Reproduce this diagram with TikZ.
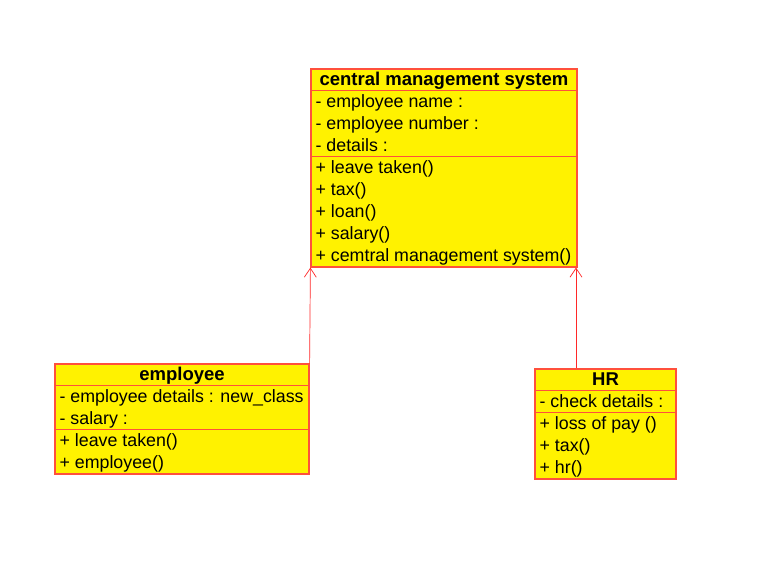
\documentclass[tikz,border=0pt]{standalone}
\usepackage{fontspec}
\setmainfont{Liberation Sans}
\usetikzlibrary{calc}
\usetikzlibrary{arrows.meta}
\definecolor{boxline}{RGB}{255,80,60}
\definecolor{arrowred}{RGB}{255,40,40}
\tikzset{
	classbox/.style={draw=boxline, fill=yellow, line width=1.2pt, inner sep=0pt},
	sepline/.style={draw=boxline, line width=1.2pt},
	member/.style={anchor=base west, inner sep=0pt, font=\fontsize{17.8}{20}\selectfont},
	classname/.style={anchor=base, inner sep=0pt, font=\fontsize{18.5}{20}\selectfont\bfseries},
	inherit/.style={draw=arrowred, line width=0.7pt, -{Straight Barb[length=9pt,width=12pt]}}
}

\begin{document}
\begin{tikzpicture}[x=1pt, y=-1pt]
	\useasboundingbox (0,0) rectangle (783,565);

	\node[classbox, minimum width=266pt, minimum height=198pt] (cms) at (444,168) {};
	\node[classname] (cmsname) at ($(cms.north)+(0,17.5)$) {central management system};
	\draw[sepline] ($(cms.north west)+(0,22)$) -- ($(cms.north east)+(0,22)$);
	\draw[sepline] ($(cms.north west)+(0,88)$) -- ($(cms.north east)+(0,88)$);
	\foreach \t [count=\i] in {- employee name :, - employee number :, - details :}
	\node[member] (cmsattr\i) at ($(cms.north west)+(5,17.5+22*\i)$) {\t};
	\foreach \t [count=\i] in {+ leave taken(), + tax(), + loan(), + salary(), + cemtral management system()}
	\node[member] (cmsop\i) at ($(cms.north west)+(5,83.5+22*\i)$) {\t};

	\node[classbox, minimum width=254pt, minimum height=110pt] (emp) at (182,419) {};
	\node[classname] (empname) at ($(emp.north)+(0,17.5)$) {employee};
	\draw[sepline] ($(emp.north west)+(0,22)$) -- ($(emp.north east)+(0,22)$);
	\draw[sepline] ($(emp.north west)+(0,66)$) -- ($(emp.north east)+(0,66)$);
	\foreach \t [count=\i] in {- employee details : new\_class, - salary :}
	\node[member] (empattr\i) at ($(emp.north west)+(5,17.5+22*\i)$) {\t};
	\foreach \t [count=\i] in {+ leave taken(), + employee()}
	\node[member] (empop\i) at ($(emp.north west)+(5,61.5+22*\i)$) {\t};

	\node[classbox, minimum width=141pt, minimum height=110pt] (hr) at (605.5,424) {};
	\node[classname] (hrname) at ($(hr.north)+(0,17.5)$) {HR};
	\draw[sepline] ($(hr.north west)+(0,22)$) -- ($(hr.north east)+(0,22)$);
	\draw[sepline] ($(hr.north west)+(0,44)$) -- ($(hr.north east)+(0,44)$);
	\node[member] (hrattr1) at ($(hr.north west)+(5,39.5)$) {- check details :};
	\foreach \t [count=\i] in {+ loss of pay (), + tax(), + hr()}
	\node[member] (hrop\i) at ($(hr.north west)+(5,39.5+22*\i)$) {\t};

	\draw[inherit] (emp.north east) -- (cms.south west);
	\draw[inherit] (hr.north -| 576,0) -- (cms.south -| 576,0);
\end{tikzpicture}
\end{document}
